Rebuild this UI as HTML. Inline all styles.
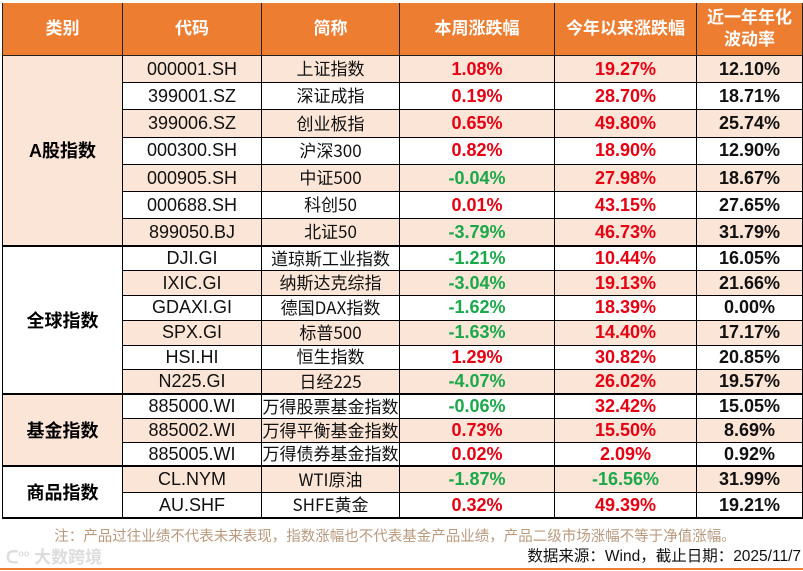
<!DOCTYPE html>
<html><head><meta charset="utf-8">
<style>
*{margin:0;padding:0;box-sizing:border-box}
body{width:803px;height:571px;background:#fff;position:relative;overflow:hidden;font-family:"Liberation Sans","Noto Sans CJK SC",sans-serif}
.c{position:absolute;display:flex;align-items:center;justify-content:center;white-space:nowrap;border-right:1px solid #000;border-bottom:1px solid #000}
.h{background:#ED7D31;color:#fff;font-weight:bold;font-size:17px;text-align:center;line-height:22px;border-color:#222}
.cat{font-weight:bold;font-size:18px}
.code{font-size:18px;color:#111}
.name{font-size:17px;color:#111;font-family:"Noto Sans CJK SC","Liberation Sans",sans-serif;line-height:1;padding-bottom:3px}
.num{font-weight:bold;font-size:18px}
.up{color:#E60012}.dn{color:#1AA84A}.bk{color:#111}
.gb{border-bottom:2px solid #000}
</style></head>
<body>
<div id="tbl"></div>
<div style="position:absolute;left:0;width:790px;top:525px;text-align:center;font-size:14.5px;color:#B8997E">注：产品过往业绩不代表未来表现，指数涨幅也不代表基金产品业绩，产品二级市场涨幅不等于净值涨幅。</div>
<div style="position:absolute;left:6px;top:543px;font-size:17px;color:#dcdcdc;font-weight:bold">ᑕ<sup style="font-size:9px">oo</sup> 大数跨境</div>
<div style="position:absolute;right:2px;top:544px;font-size:15.5px;color:#111">数据来源：Wind，截止日期：2025/11/7</div>
<div style="position:absolute;left:0;width:803px;top:568px;height:2px;background:#ED7D31"></div>
<script>
const headers=["类别","代码","简称","本周涨跌幅","今年以来涨跌幅","近一年年化<br>波动率"];
const groups=["A股指数","全球指数","基金指数","商品指数"];
const groupSizes=[7,6,3,2];
const codes=["000001.SH","399001.SZ","399006.SZ","000300.SH","000905.SH","000688.SH","899050.BJ","DJI.GI","IXIC.GI","GDAXI.GI","SPX.GI","HSI.HI","N225.GI","885000.WI","885002.WI","885005.WI","CL.NYM","AU.SHF"];
const names=["上证指数","深证成指","创业板指","沪深300","中证500","科创50","北证50","道琼斯工业指数","纳斯达克综指","德国DAX指数","标普500","恒生指数","日经225","万得股票基金指数","万得平衡基金指数","万得债券基金指数","WTI原油","SHFE黄金"];
const weekly=[1.08,0.19,0.65,0.82,-0.04,0.01,-3.79,-1.21,-3.04,-1.62,-1.63,1.29,-4.07,-0.06,0.73,0.02,-1.87,0.32];
const ytd=[19.27,28.70,49.80,18.90,27.98,43.15,46.73,10.44,19.13,18.39,14.40,30.82,26.02,32.42,15.50,2.09,-16.56,49.39];
const vol=[12.10,18.71,25.74,12.90,18.67,27.65,31.79,16.05,21.66,0.00,17.17,20.85,19.57,15.05,8.69,0.92,31.99,19.21];
const colX=[2,123,262,400,555,697,803];
const groupBounds=[[56,246.7],[246.7,395],[395,467],[467,519]];
const T=document.getElementById('tbl');
function cell(x0,x1,y0,y1,cls,html){const d=document.createElement('div');d.className='c '+cls;d.style.left=x0+'px';d.style.width=(x1-x0)+'px';d.style.top=y0+'px';d.style.height=(y1-y0)+'px';d.innerHTML=html;T.appendChild(d);return d;}
headers.forEach((h,i)=>{const d=cell(colX[i],colX[i+1],3,56,'h',h);


if(i==0)d.style.borderLeft='1px solid #222';});
const fmt=v=>v.toFixed(2)+'%';
let r=0;
groups.forEach((g,gi)=>{const [y0,y1]=groupBounds[gi];const n=groupSizes[gi];const rh=(y1-y0)/n;
const cd=cell(colX[0],colX[1],y0,y1,'cat gb',g);


cd.style.background=gi%2==0?'#FBE5D6':'#fff';cd.style.borderLeft='1px solid #000';
for(let k=0;k<n;k++,r++){const a=y0+k*rh,b=a+rh;const bg=r%2==0?'#FBE5D6':'#fff';const last=k==n-1?' gb':'';
const vals=[codes[r],names[r],fmt(weekly[r]),fmt(ytd[r]),fmt(vol[r])];
const cls=['code','name','num '+(weekly[r]<0?'dn':'up'),'num '+(ytd[r]<0?'dn':'up'),'num bk'];
for(let c=0;c<5;c++){const d=cell(colX[c+1],colX[c+2],a,b,cls[c]+last,vals[c]);d.style.background=bg;

}}
});
</script>
</body></html>
